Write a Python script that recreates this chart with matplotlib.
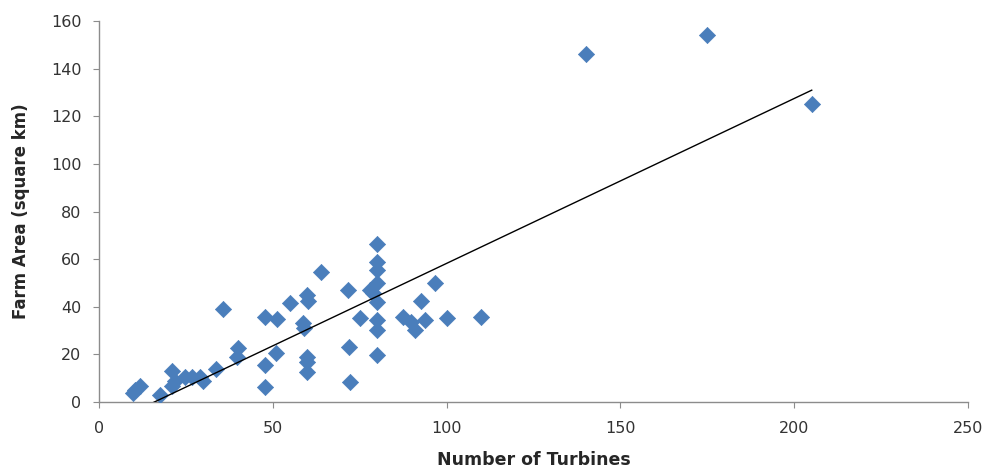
"""Farm area vs number of turbines scatter with linear trendline."""

import matplotlib.pyplot as plt
import numpy as np

# values
turbines = [
    10, 10.5, 12, 17.6, 21, 21, 22, 24.8, 26.7, 29, 30, 33.7, 35.8, 40, 39.7,
    47.8, 51.3, 47.8, 47.8, 51.1, 55, 59.8, 60.2, 58.8, 59, 60, 60, 60, 64,
    71.7, 75, 72, 72.2, 80, 80, 80, 80, 78, 79, 80, 80, 80, 80, 87.5, 89.9,
    90.9, 93.8, 92.8, 96.6, 100, 110, 140, 175, 205,
]
farm_area = [
    3.6, 5, 6.7, 2.9, 6.7, 13, 9, 10.4, 10.4, 10.5, 8.7, 13.7, 38.9, 22.5, 19,
    35.8, 34.7, 15.5, 6.2, 20.7, 41.6, 44.9, 42.5, 33, 30.9, 19, 16.9, 12.7,
    54.7, 47, 35.1, 23.2, 8.5, 66.2, 58.9, 55.4, 49.8, 47, 45.7, 42, 34.4,
    30.2, 19.7, 35.6, 33.5, 30.2, 34.4, 42.5, 49.8, 35.1, 35.6, 146, 154, 125,
]
# trendline: y = slope * x + intercept
trend_slope = 0.693
trend_intercept = -11.1

x_ticks = [0, 50, 100, 150, 200, 250]
y_ticks = [0, 20, 40, 60, 80, 100, 120, 140, 160]

plt.rcParams["font.family"] = ["DejaVu Sans"]

fig = plt.figure(figsize=(9.87, 4.75), dpi=100)
ax = fig.add_axes([0.100, 0.1537, 0.881, 0.802])

ax.scatter(turbines, farm_area, marker="D", s=68, color="#4A7EBB",
           edgecolors="#4A7EBB", linewidths=0.5, zorder=3)

tx = np.array([min(turbines), max(turbines)])
ax.plot(tx, trend_slope * tx + trend_intercept, color="black", lw=1.0, zorder=4)

ax.set_xlim(0, 250)
ax.set_ylim(0, 160)
ax.set_xticks(x_ticks)
ax.set_yticks(y_ticks)
for side in ["top", "right"]:
    ax.spines[side].set_visible(False)
for side in ["left", "bottom"]:
    ax.spines[side].set_color("#8C8C8C")
    ax.spines[side].set_linewidth(1.0)
ax.tick_params(direction="out", length=4.5, color="#8C8C8C",
               labelsize=11.5, labelcolor="#333333")
ax.tick_params(axis="y", pad=8)
ax.tick_params(axis="x", pad=9)

ax.set_xlabel("Number of Turbines", fontsize=12.5, fontweight="bold",
              color="#262626", labelpad=11)
ax.set_ylabel("Farm Area (square km)", fontsize=12, fontweight="bold",
              color="#262626", labelpad=15)

fig.savefig("out.png", dpi=100)
